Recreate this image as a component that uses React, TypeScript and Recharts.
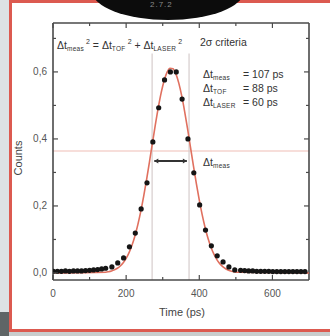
import React from "react"
import {
  ComposedChart,
  Line,
  Scatter,
  XAxis,
  YAxis,
  ReferenceLine,
} from "recharts"

// measured counts (dots)
const dotTimes = [
  1, 12, 23, 34, 45, 56, 67, 78, 89, 100, 111, 122, 133, 144,
  161, 177, 193, 209, 225, 241, 257, 273, 289, 305, 321, 337, 353, 369, 385, 401, 417, 433, 449, 465, 481, 497,
  513, 524, 535, 546, 557, 568, 579, 590, 601, 612, 623, 634, 645, 656, 667, 678, 689,
]
const dotCounts = [
  0.005, 0.005, 0.005, 0.006, 0.005, 0.006, 0.006, 0.006, 0.007, 0.008, 0.009, 0.01, 0.012, 0.014,
  0.018, 0.03, 0.045, 0.078, 0.119, 0.191, 0.269, 0.391, 0.493, 0.576, 0.6, 0.6, 0.519, 0.4, 0.299, 0.203, 0.128, 0.081, 0.051, 0.033, 0.018, 0.009,
  0.008, 0.007, 0.006, 0.006, 0.005, 0.005, 0.005, 0.005, 0.004, 0.004, 0.004, 0.004, 0.004, 0.004, 0.004, 0.004, 0.004,
]

// gaussian fit (red curve)
const fitTimes = [
  0, 144, 152, 160, 168, 176, 184, 192, 200, 208, 216, 224, 232, 240, 248, 256, 264, 272, 280, 288, 296, 304, 312, 320,
  328, 336, 344, 352, 360, 368, 376, 384, 392, 400, 408, 416, 424, 432, 440, 448, 456, 464, 472, 480, 488, 496, 504, 700,
]
const fitValues = [
  0, 0.0023, 0.0037, 0.0059, 0.0092, 0.014, 0.0209, 0.0305, 0.0435, 0.0607, 0.0828, 0.1105, 0.1441, 0.1837, 0.2291, 0.2794,
  0.3332, 0.3886, 0.4431, 0.4941, 0.5388, 0.5746, 0.5992, 0.611, 0.6093, 0.5942, 0.5666, 0.5284, 0.4818, 0.4297, 0.3747,
  0.3195, 0.2664, 0.2173, 0.1733, 0.1351, 0.103, 0.0768, 0.056, 0.04, 0.0279, 0.019, 0.0127, 0.0083, 0.0053, 0.0033, 0.002, 0,
]

const xTicks = [0, 100, 200, 300, 400, 500, 600]
const yTicks = [0, 0.1, 0.2, 0.3, 0.4, 0.5, 0.6, 0.7]
const xDomain = [0, 700]
const yDomain = [-0.021, 0.746]

// markers
const widthLevel = 0.364
const widthLeft = 271
const widthRight = 372
const arrowLevel = 0.334

const dots = dotTimes.map((t, i) => ({ t, c: dotCounts[i] }))
const fit = fitTimes.map((t, i) => ({ t, f: fitValues[i] }))

const AX = "#4a4a4a"
const FONT = "'Liberation Sans', Arial, sans-serif"

const isMajorX = (v: number) => v % 200 === 0
const isMajorY = (v: number) => Math.round(v * 10) % 2 === 0

// inward tick length in data units (5px / 3px)
const xTickLen = (major: boolean) => (major ? 13.7 : 8.2)
const yTickLen = (major: boolean) => (major ? 0.015 : 0.009)

const BottomTick = (p: any) => {
  const v = p.payload.value
  const big = isMajorX(v)
  return (
    <g>
      <line x1={p.x} x2={p.x} y1={p.y} y2={p.y - (big ? 5 : 3)} stroke={AX} strokeWidth={1.2} />
      {big && (
        <text x={p.x} y={p.y + 17} textAnchor="middle" fontSize={10} fill="#555" fontFamily={FONT}>
          {v}
        </text>
      )}
    </g>
  )
}

const LeftTick = (p: any) => {
  const v = p.payload.value
  const big = isMajorY(v)
  return (
    <g>
      <line x1={p.x} x2={p.x + (big ? 5 : 3)} y1={p.y} y2={p.y} stroke={AX} strokeWidth={1.2} />
      {big && (
        <text x={p.x - 6} y={p.y + 3.5} textAnchor="end" fontSize={10} fill="#555" fontFamily={FONT}>
          {v.toFixed(1).replace(".", ",")}
        </text>
      )}
    </g>
  )
}

const Arrow = (p: any) => {
  const { x1, y1, x2, y2 } = p
  return (
    <g>
      <line x1={x1} y1={y1} x2={x2} y2={y2} stroke="#333" strokeWidth={2} />
      <path d={`M${x1},${y1} l4,-2.5 l0,5 z`} fill="#333" />
      <path d={`M${x2},${y2} l-4,-2.5 l0,5 z`} fill="#333" />
    </g>
  )
}

const Dot = (p: any) => <circle cx={p.cx} cy={p.cy} r={2.6} fill="#151515" />

const txt: React.CSSProperties = {
  position: "absolute",
  fontFamily: FONT,
  fontSize: 10.5,
  color: "#333",
  whiteSpace: "nowrap",
  lineHeight: "12px",
}
const sub: React.CSSProperties = { fontSize: 6.5, verticalAlign: "-2px", letterSpacing: 0.3 }
const sup: React.CSSProperties = { fontSize: 7, verticalAlign: "5px", marginLeft: 2 }

export default function App() {
  return (
    <div style={{ position: "fixed", left: 0, top: 0, width: 330, height: 336, overflow: "hidden", background: "#dde2e4" }}>
      <div style={{ position: "absolute", left: 0, top: 332, width: 330, height: 4, background: "#c9cdcd" }} />
      <div style={{ position: "absolute", left: 0, top: 312, width: 9, height: 24, background: "#5f6566" }} />
      <div
        style={{
          position: "absolute",
          left: 9,
          top: 0,
          width: 321,
          height: 332,
          boxSizing: "border-box",
          borderTop: "3px solid #dc5a50",
          borderLeft: "3px solid #dc5a50",
          borderBottom: "3px solid #dc5a50",
          background: "#fff",
        }}
      />
      <div
        style={{
          position: "absolute",
          left: 92,
          top: -38,
          width: 152,
          height: 58,
          borderRadius: "50%",
          background: "#0c0c0c",
        }}
      />
      <div style={{ ...txt, left: 150, top: 0, fontSize: 8, lineHeight: "9px", color: "#8a8a8a", letterSpacing: 1 }}>2.7.2</div>

      <div style={{ position: "absolute", left: 0, top: 0 }}>
        <ComposedChart width={330} height={336} margin={{ top: 23, right: 21, bottom: 26, left: 23 }}>
          <XAxis
            dataKey="t"
            type="number"
            domain={xDomain}
            ticks={xTicks}
            interval={0}
            allowDataOverflow
            height={30}
            tickSize={0}
            tickMargin={0}
            tickLine={false}
            tick={BottomTick}
            axisLine={{ stroke: AX, strokeWidth: 1.6 }}
          />
          <YAxis
            type="number"
            domain={yDomain}
            ticks={yTicks}
            interval={0}
            allowDataOverflow
            width={30}
            tickSize={0}
            tickMargin={0}
            tickLine={false}
            tick={LeftTick}
            axisLine={{ stroke: AX, strokeWidth: 1.6 }}
          />
          <ReferenceLine y={widthLevel} stroke="#efbdb5" strokeWidth={1.2} />
          <ReferenceLine
            segment={[{ x: widthLeft, y: yDomain[0] }, { x: widthLeft, y: 0.655 }]}
            stroke="#d6cccc"
            strokeWidth={1.2}
          />
          <ReferenceLine
            segment={[{ x: widthRight, y: yDomain[0] }, { x: widthRight, y: 0.655 }]}
            stroke="#d6cccc"
            strokeWidth={1.2}
          />

          {/* top and right frame with inward ticks */}
          <ReferenceLine
            segment={[{ x: xDomain[0], y: yDomain[1] }, { x: xDomain[1], y: yDomain[1] }]}
            stroke={AX}
            strokeWidth={1.6}
            ifOverflow="visible"
          />
          <ReferenceLine
            segment={[{ x: xDomain[1], y: yDomain[0] }, { x: xDomain[1], y: yDomain[1] }]}
            stroke={AX}
            strokeWidth={1.6}
            ifOverflow="visible"
          />
          {xTicks.map((v) => (
            <ReferenceLine
              key={"tx" + v}
              segment={[{ x: v, y: yDomain[1] }, { x: v, y: yDomain[1] - yTickLen(isMajorX(v)) }]}
              stroke={AX}
              strokeWidth={1.2}
              ifOverflow="visible"
            />
          ))}
          {yTicks.map((v) => (
            <ReferenceLine
              key={"ty" + v}
              segment={[{ x: xDomain[1], y: v }, { x: xDomain[1] - xTickLen(isMajorY(v)), y: v }]}
              stroke={AX}
              strokeWidth={1.2}
              ifOverflow="visible"
            />
          ))}

          <Line
            data={fit}
            dataKey="f"
            type="monotone"
            stroke="#e0705f"
            strokeWidth={1.6}
            dot={false}
            isAnimationActive={false}
          />
          <Scatter data={dots} dataKey="c" shape={Dot} isAnimationActive={false} />
          <ReferenceLine
            segment={[{ x: widthLeft + 6, y: arrowLevel }, { x: widthRight - 6, y: arrowLevel }]}
            shape={Arrow}
          />
        </ComposedChart>
      </div>

      <div style={{ ...txt, left: 57, top: 36 }}>
        Δt<span style={sub}>meas</span>
        <span style={sup}>2</span> = Δt<span style={sub}>TOF</span>
        <span style={sup}>2</span> + Δt<span style={sub}>LASER</span>
        <span style={sup}>2</span>
      </div>
      <div style={{ ...txt, left: 200, top: 36 }}>2σ criteria</div>
      <div style={{ ...txt, left: 203, top: 68 }}>Δt<span style={sub}>meas</span></div>
      <div style={{ ...txt, left: 243, top: 68 }}>= 107 ps</div>
      <div style={{ ...txt, left: 203, top: 82 }}>Δt<span style={sub}>TOF</span></div>
      <div style={{ ...txt, left: 243, top: 82 }}>= 88 ps</div>
      <div style={{ ...txt, left: 203, top: 96 }}>Δt<span style={sub}>LASER</span></div>
      <div style={{ ...txt, left: 243, top: 96 }}>= 60 ps</div>
      <div style={{ ...txt, left: 203, top: 156 }}>Δt<span style={sub}>meas</span></div>

      <div style={{ ...txt, left: 0, width: 330, top: 306, fontSize: 11, color: "#444" }}>
        <div style={{ position: "absolute", left: 182, transform: "translateX(-50%)" }}>Time (ps)</div>
      </div>
      <div
        style={{
          ...txt,
          left: 18,
          top: 158,
          fontSize: 11,
          color: "#444",
          transform: "translate(-50%, -50%) rotate(-90deg)",
        }}
      >
        Counts
      </div>
    </div>
  )
}
